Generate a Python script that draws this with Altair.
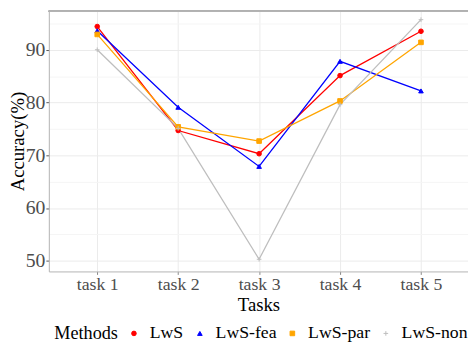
import altair as alt
import pandas as pd

tasks = [1, 2, 3, 4, 5]
methods = ["LwS", "LwS-fea", "LwS-par", "LwS-non"]
lws = [94.4, 74.7, 70.3, 85.1, 93.5]
lws_fea = [93.6, 79.1, 67.9, 87.8, 82.2]
lws_par = [92.9, 75.4, 72.7, 80.3, 91.4]
lws_non = [90.0, 75.1, 50.3, 79.6, 95.7]
colors = ["#ff0000", "#0000ff", "#ffa500", "#bebebe"]
shapes = ["circle", "triangle-up", "square", "M-1,0H1M0,-1V1"]
y_ticks = [50, 55, 60, 65, 70, 75, 80, 85, 90, 95]

series = [lws, lws_fea, lws_par, lws_non]
rows = []
for m, vals in zip(methods, series):
    for t, v in zip(tasks, vals):
        rows.append({"task": t, "acc": v, "Method": m})
df = pd.DataFrame(rows)

W, H = 426, 265
FONT = "Liberation Serif"

legend = alt.Legend(
    orient="none", legendX=5.5, legendY=319, direction="horizontal",
    titleOrient="left", title="Methods", titleFont=FONT, titleFontSize=18.5,
    titleFontWeight="normal", titleColor="black", titlePadding=7,
    labelFont=FONT, labelFontSize=18, labelColor="black", labelOffset=7,
    columnPadding=7, symbolSize=22, symbolStrokeWidth=1,
)

x = alt.X("task:Q", scale=alt.Scale(domain=[0.402, 5.581], nice=False, zero=False),
          axis=alt.Axis(values=tasks, labelExpr="'task ' + datum.value", title="Tasks",
                        grid=True, gridColor="#ebebeb", tickSize=3, labelPadding=1,
                        labelFontSize=18,
                        titleY=34, titleBaseline="middle", domainColor="#b3b3b3"))
y = alt.Y("acc:Q", scale=alt.Scale(domain=[48.0, 97.4], nice=False, zero=False),
          axis=alt.Axis(values=y_ticks, title="Accuracy(%)",
                        labelExpr="datum.value % 10 == 0 ? datum.label : ''",
                        labelFontSize=20,
                        gridColor={"condition": {"test": "datum.value % 10 == 0", "value": "#ebebeb"}, "value": "#f5f5f5"},
                        tickColor={"condition": {"test": "datum.value % 10 == 0", "value": "#555555"}, "value": "transparent"},
                        tickSize=3, labelPadding=1, titleX=-32, titleY=H / 2,
                        titleBaseline="middle", titleAlign="center", domainColor="#b3b3b3"))
color = alt.Color("Method:N", scale=alt.Scale(domain=methods, range=colors), legend=legend)

base = alt.Chart(df).encode(x=x, y=y, color=color)
lines = base.mark_line(strokeWidth=1.3)
points = base.mark_point(filled=True, size=22, strokeWidth=1, opacity=1).encode(
    shape=alt.Shape("Method:N", scale=alt.Scale(domain=methods, range=shapes), legend=legend),
    stroke=alt.Stroke("Method:N", scale=alt.Scale(domain=methods, range=colors), legend=legend),
)
top = alt.Chart(df).mark_rule(color="#b3b3b3", strokeWidth=1).encode(
    x=alt.value(0), x2=alt.value(W), y=alt.value(0.5))

chart = alt.layer(lines, points, top).properties(
    width=W, height=H,
    autosize=alt.AutoSizeParams(type="none"),
    padding={"left": 41.5, "top": 0, "right": 0, "bottom": 70},
).configure_view(stroke=None).configure_axis(
    labelFont=FONT, labelColor="#4d4d4d",
    titleFont=FONT, titleFontSize=19, titleColor="black", titleFontWeight="normal",
)

chart.save("out.html", embed_options={"renderer": "svg", "actions": False})
